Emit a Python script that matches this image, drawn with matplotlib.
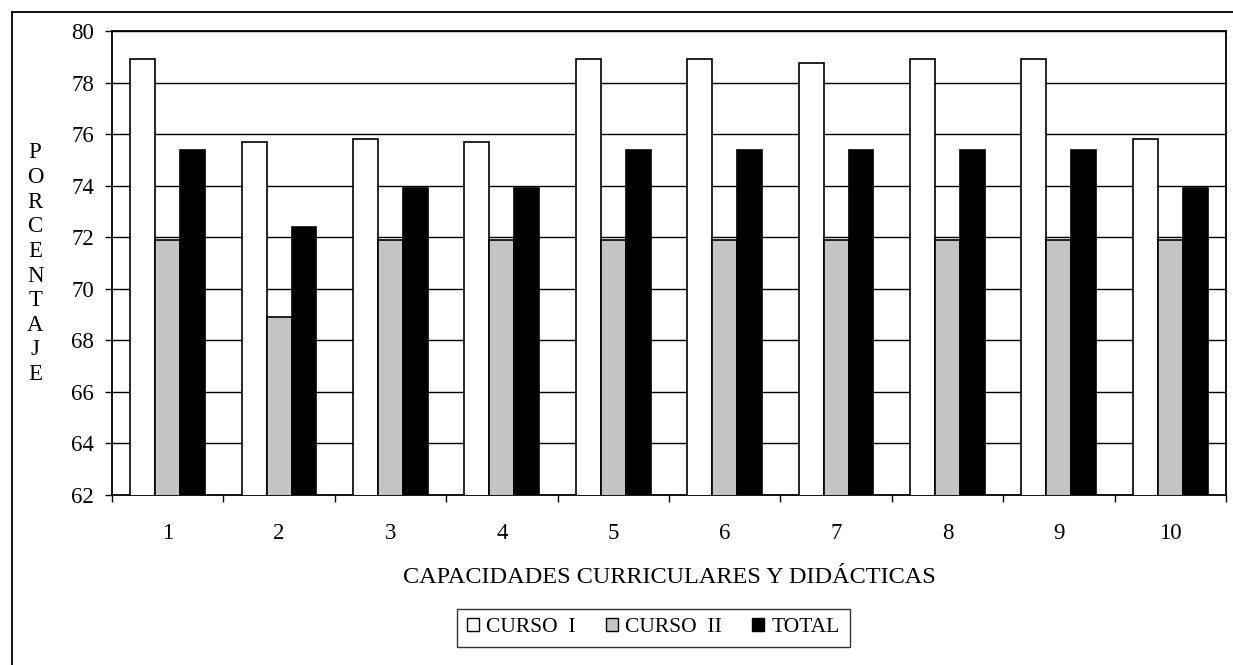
import matplotlib.pyplot as plt
import numpy as np
from matplotlib.lines import Line2D
from matplotlib.patches import Patch

plt.rcParams['font.family'] = ['Liberation Serif', 'DejaVu Serif']

capacidades = ['1', '2', '3', '4', '5', '6', '7', '8', '9', '10']
curso_1 = [78.9, 75.7, 75.8, 75.7, 78.9, 78.9, 78.75, 78.9, 78.9, 75.8]
curso_2 = [71.9, 68.9, 71.9, 71.9, 71.9, 71.9, 71.9, 71.9, 71.9, 71.9]
total = [75.4, 72.4, 73.9, 73.9, 75.4, 75.4, 75.4, 75.4, 75.4, 73.9]

fig = plt.figure(figsize=(12.33, 6.65), dpi=100)
ax = fig.add_axes([0.0908, 0.2556, 0.9035, 0.6978])

x = np.arange(len(capacidades))
w = 0.224
ax.bar(x - w, curso_1, w, color='white', edgecolor='black', linewidth=1.2, zorder=3)
ax.bar(x, curso_2, w, color='#c4c4c4', edgecolor='black', linewidth=1.2, zorder=3)
ax.bar(x + w, total, w, color='black', edgecolor='black', linewidth=1.2, zorder=3)

ax.set_ylim(62, 80)
ax.set_xlim(-0.5, len(capacidades) - 0.5)
ax.set_yticks(np.arange(62, 81, 2))
ax.yaxis.grid(True, color='black', linewidth=1.0, zorder=0)
ax.set_axisbelow(True)

ax.set_xticks(x)
ax.set_xticklabels(capacidades, fontsize=16.5)
ax.set_xticks(np.arange(-0.5, len(capacidades), 1), minor=True)
ax.tick_params(axis='x', which='major', length=0, pad=20)
ax.tick_params(axis='x', which='minor', length=5, direction='out', width=1)
ax.tick_params(axis='y', length=5, direction='out', width=1, labelsize=16.5, pad=8)
for s in ax.spines.values():
    s.set_linewidth(1.3)

ax.set_xlabel('CAPACIDADES CURRICULARES Y DIDÁCTICAS', fontsize=17.5, labelpad=17)

# vertical stacked y label
ylab = 'PORCENTAJE'
for i, ch in enumerate(ylab):
    fig.text(0.0285, 1 - (153 + i * 24.6) / 665, ch, fontsize=16.5,
             ha='center', va='center')

# outer frame (left and top edges)
fig.add_artist(Line2D([0.0097, 0.0097], [0.0, 0.982], color='black', linewidth=1.3))
fig.add_artist(Line2D([0.0097, 1.0], [0.982, 0.982], color='black', linewidth=1.3))

handles = [Patch(facecolor='white', edgecolor='black', label='CURSO  I'),
           Patch(facecolor='#c4c4c4', edgecolor='black', label='CURSO  II'),
           Patch(facecolor='black', edgecolor='black', label='TOTAL')]
leg = fig.legend(handles=handles, loc='center', bbox_to_anchor=(0.53, 0.056),
                 ncol=3, fontsize=15.5, frameon=True, fancybox=False,
                 handlelength=0.55, handleheight=0.55, handletextpad=0.35,
                 columnspacing=1.4, borderpad=0.45)
leg.get_frame().set_edgecolor('black')
leg.get_frame().set_linewidth(1.0)

fig.savefig('out.png', dpi=100)
